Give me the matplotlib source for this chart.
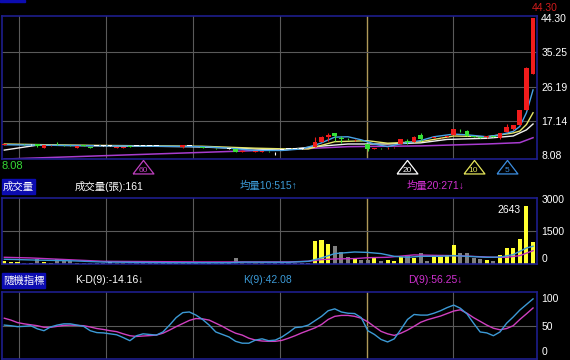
import matplotlib
matplotlib.use("Agg")
import matplotlib.pyplot as plt
import matplotlib.transforms as mtransforms
from matplotlib.patches import Rectangle

plt.rcParams['font.family'] = ['Liberation Sans Narrow', 'Liberation Sans', 'Noto Sans CJK TC']

# ---- daily candles ----
opens = [10.9, 11.05, 11.05, 11.1, 11.0, 11.1, 10.0, 10.75, 10.9, 10.85,
         10.8, 10.0, 10.7, 10.3, 10.65, 10.7, 10.7, 10.1, 10.1, 10.5,
         10.6, 10.6, 10.6, 10.6, 10.55, 10.55, 10.5, 10.2, 10.6, 10.5,
         10.3, 10.3, 10.1, 10.0, 9.9, 9.8, 9.1, 9.3, 9.1, 9.1,
         9.3, 8.9, 9.6, 9.8, 9.8, 9.9, 10.0, 10.2, 11.7, 12.9,
         14.05, 12.6, 12.45, 12.05, 12.15, 11.1, 9.8, 10.05, 9.95, 10.2,
         11.1, 11.9, 11.7, 13.46, 12.75, 12.7, 12.85, 12.95, 13.46, 14.6,
         14.5, 13.2, 12.9, 12.85, 13.2, 12.6, 14.3, 15.0, 16.1, 20.0,
         29.6]
closes = [11.1, 11.1, 11.1, 11.0, 11.0, 10.45, 10.75, 10.8, 10.8, 10.75,
          10.75, 10.65, 10.6, 10.15, 10.65, 10.7, 10.7, 10.3, 10.3, 10.4,
          10.6, 10.6, 10.6, 10.6, 10.55, 10.55, 10.5, 10.84, 10.6, 10.5,
          10.15, 10.3, 9.95, 10.0, 9.9, 9.1, 9.35, 9.2, 9.3, 9.3,
          9.15, 8.9, 9.6, 9.8, 9.8, 9.9, 10.0, 11.7, 12.86, 13.4,
          13.2, 12.35, 12.3, 12.15, 12.05, 9.8, 10.05, 9.95, 10.15, 10.3,
          12.3, 11.65, 13.0, 12.33, 12.65, 12.8, 12.95, 13.05, 14.96, 14.4,
          13.3, 12.9, 12.6, 13.1, 13.0, 14.05, 15.5, 16.1, 20.0, 31.0,
          44.3]
highs = [11.2, 11.15, 11.15, 11.15, 11.05, 11.15, 10.8, 10.85, 11.7, 10.9,
         10.85, 10.7, 10.75, 10.35, 10.7, 10.75, 10.75, 10.35, 10.35, 10.55,
         10.65, 10.65, 10.65, 10.65, 10.6, 10.6, 10.55, 10.9, 10.65, 10.55,
         10.35, 10.35, 10.15, 10.05, 9.95, 9.85, 9.4, 9.35, 9.35, 9.35,
         9.35, 8.95, 9.65, 9.85, 9.85, 9.95, 10.05, 13.0, 13.2, 13.9,
         14.1, 13.2, 12.6, 12.3, 12.2, 11.2, 10.1, 10.1, 10.2, 10.35,
         12.35, 12.3, 13.1, 14.0, 12.8, 12.85, 13.0, 13.1, 15.0, 15.1,
         14.7, 13.25, 12.95, 13.15, 13.25, 14.1, 16.3, 16.2, 20.1, 31.2,
         44.3]
lows = [10.8, 11.0, 11.0, 10.95, 10.95, 10.4, 9.95, 10.7, 10.75, 10.7,
        10.7, 9.95, 10.55, 10.1, 10.6, 10.65, 10.65, 10.05, 10.05, 10.35,
        10.55, 10.55, 10.55, 10.55, 10.5, 10.5, 10.45, 10.15, 10.55, 10.45,
        10.1, 10.25, 9.9, 9.95, 9.85, 9.05, 9.05, 9.15, 9.05, 9.05,
        9.1, 8.08, 9.55, 9.75, 9.75, 9.85, 9.95, 10.2, 11.6, 11.9,
        12.0, 11.4, 12.2, 12.0, 12.0, 9.3, 9.75, 9.9, 9.9, 10.15,
        11.0, 11.0, 11.6, 12.0, 12.6, 12.65, 12.8, 12.9, 13.4, 14.3,
        13.2, 12.85, 12.55, 12.8, 12.95, 12.5, 14.2, 14.9, 16.0, 20.0,
        29.5]

# moving averages of price, read at a few bars
ma5_x = [0, 10, 20, 30, 34, 38, 42, 45, 47, 48, 50, 52, 54, 56, 58, 60, 63, 65, 68, 70, 73, 75, 77, 78, 79, 80]
ma5_y = [10.9, 10.7, 10.55, 10.4, 10.0, 9.4, 9.4, 9.8, 10.8, 11.4, 12.9, 13.0, 12.2, 11.1, 10.4, 11.2, 12.0, 13.0, 13.7, 13.5, 13.0, 13.5, 14.4, 15.7, 19.3, 25.3]
ma10_x = [0, 10, 20, 30, 38, 43, 46, 50, 55, 58, 63, 68, 73, 77, 78, 79, 80]
ma10_y = [11.1, 10.8, 10.65, 10.5, 10.0, 9.8, 9.8, 11.7, 11.96, 11.3, 11.7, 13.2, 13.0, 14.0, 14.5, 16.2, 19.3]
ma20_x = [0, 5, 28, 35, 42, 47, 52, 58, 63, 67, 73, 77, 79, 80]
ma20_y = [9.5, 10.8, 10.4, 10.0, 9.5, 10.4, 11.1, 11.1, 11.4, 12.3, 12.6, 13.2, 14.8, 16.35]
ma60_x = [0, 42, 52, 63, 73, 78, 80]
ma60_y = [7.15, 9.6, 10.4, 10.6, 11.1, 11.45, 12.75]

# ---- volume (lots) ----
volumes = [100, 60, 60, 15, 25, 190, 70, 40, 230, 100,
           100, 20, 15, 30, 20, 40, 80, 25, 20, 20,
           60, 20, 50, 20, 40, 20, 20, 20, 15, 15,
           20, 15, 15, 20, 20, 260, 20, 20, 20, 20,
           20, 20, 20, 20, 20, 20, 20, 1020, 1100, 917,
           825, 520, 290, 245, 185, 161, 275, 138, 170, 138,
           307, 367, 260, 505, 107, 290, 290, 398, 872, 474,
           505, 260, 199, 168, 107, 413, 719, 719, 1131, 2643,
           1009]
vma10_x = [0, 5, 10, 15, 25, 34, 36, 43, 46, 48, 50, 53, 55, 57, 59, 61, 63, 66, 68, 70, 73, 75, 77, 79, 80]
vma10_y = [200, 160, 130, 70, 40, 40, 65, 60, 105, 260, 460, 535, 515, 460, 336, 290, 336, 336, 367, 336, 290, 300, 413, 719, 800]
vma20_x = [0, 4, 15, 30, 43, 46, 48, 50, 53, 55, 58, 62, 65, 68, 71, 74, 76, 78, 80]
vma20_y = [290, 260, 105, 76, 76, 105, 183, 214, 230, 271, 290, 400, 380, 367, 330, 290, 290, 367, 596]

# ---- stochastic KD(9) ----
k_vals = [51, 50, 48.5, 49, 50, 45, 42, 48, 51, 53,
          53, 51, 49, 42, 39, 38.5, 37, 35.5, 31, 26,
          34, 37, 36, 35, 40, 51, 63, 71, 72, 67,
          60, 51, 40, 36, 32, 25, 22, 22, 27, 29,
          26, 27, 32, 39, 47, 48, 51, 58, 65, 74,
          77, 72, 70, 69.5, 63, 42.08, 36, 28, 24, 29,
          44, 60, 68, 67, 67, 70, 74, 79, 83, 78,
          69, 54, 40, 38.5, 34, 40, 54, 64, 75, 84,
          93]
d_vals = [62, 59, 55, 53, 51.5, 50, 47.5, 47.5, 49, 50.5,
          51, 50.5, 50, 48, 45.5, 44, 42, 40.5, 37, 34,
          32.8, 33.5, 34.2, 35, 38, 43, 48.5, 53.5, 58.5, 61.5,
          61, 59, 54, 49, 43, 38, 35, 30, 27, 25.5,
          25, 25, 26.5, 30, 34, 38.5, 42.5, 46.5, 52, 60,
          65, 66.5, 66.5, 65, 62, 56.25, 48.5, 41, 37, 34.5,
          38, 43, 49, 55.5, 59.5, 62.5, 65.5, 69.5, 73.5, 75.5,
          70, 63, 57, 51, 46, 43.5, 45.5, 50, 60, 69,
          78.4]
kd_diff = -14.16   # as printed in the header

price_ticks = [8.08, 17.14, 26.19, 35.25, 44.30]
ma_periods = [60, 20, 10, 5]
cursor = 55

N = len(closes)
xs = list(range(N))
BG = 'black'
GRID = '#5a5a5a'
EDGE = '#1e1e8c'
CURSOR = '#b09a5a'
RED, GREEN = '#f01c1c', '#36e036'
BLUE, MAG = '#3c9ad6', '#d040c0'

fig = plt.figure(figsize=(5.7, 3.6), dpi=100, facecolor=BG)


def px(x, y):
    return x / 570, 1 - y / 360


def panel(top, bottom):
    ax = fig.add_axes([2 / 570, 1 - bottom / 360, 535 / 570, (bottom - top) / 360])
    ax.set_facecolor(BG)
    for s in ax.spines.values():
        s.set_color(EDGE)
        s.set_linewidth(1.2)
    ax.set_xlim(-0.35, 80.6)
    ax.set_xticks([])
    ax.yaxis.tick_right()
    ax.tick_params(axis='y', length=0, pad=3, colors='white', labelsize=7.5)
    for gx in [2.2, 15.4, 28.55, 41.7, 67.9]:
        ax.axvline(gx, color=GRID, lw=0.8, zorder=0)
    ax.axvline(54.9, color=CURSOR, lw=1, zorder=0)
    return ax


# ---------------- price panel ----------------
ax1 = panel(16, 159)
ax1.set_ylim(7.16, 44.7)
ax1.set_yticks(price_ticks)
ax1.set_yticklabels(['%.2f' % v for v in price_ticks])
for gy in price_ticks[1:4]:
    ax1.axhline(gy, color=GRID, lw=0.8, zorder=0)

ax1.plot(ma60_x, ma60_y, color='#a83cd0', lw=1.1, zorder=2)
ax1.plot(ma20_x, ma20_y, color='#f0f0f0', lw=1, zorder=2)
ax1.plot(ma10_x, ma10_y, color='#e6e66a', lw=1, zorder=2)
ax1.plot(ma5_x, ma5_y, color='#4aa4e8', lw=1, zorder=2)

for i in xs:
    o, c = opens[i], closes[i]
    col = RED if c > o else (GREEN if c < o else 'white')
    ax1.vlines(i, lows[i], highs[i], color=col, lw=0.8, zorder=3)
    ax1.bar(i, max(abs(c - o), 0.12), bottom=min(o, c), width=0.72, color=col, zorder=3)

# MA period markers under the price panel
mk = mtransforms.blended_transform_factory(ax1.transData, ax1.transAxes)
tri = [(-1, -0.62), (1, -0.62), (0, 0.68), (-1, -0.62)]
for n, col in zip(ma_periods, ['#c040c0', 'white', '#e6e65a', '#3c8ee0']):
    ax1.plot(N - n, -0.055, marker=tri, ms=15, mfc='none', mec=col, mew=0.9,
             transform=mk, clip_on=False)
    ax1.text(N - n, -0.08, str(n), color=col, fontsize=6, ha='center', va='center',
             transform=mk, clip_on=False)

fig.text(*px(2, 166), '%.2f' % min(lows), color='#36d836', fontsize=8, va='center')
fig.text(*px(545, 8), '%.2f' % max(highs), color='#d01c1c', fontsize=7.5, ha='center', va='center')
fig.patches.append(Rectangle(px(0, 2), 25 / 570, 2 / 360, transform=fig.transFigure,
                             color='#0c0cb0'))

# ---------------- volume panel ----------------
ax2 = panel(198, 264)
ax2.set_ylim(-20, 3030)
ax2.set_yticks([0, 1500, 3000])
ax2.set_yticklabels(['0', '1500', '3000'])
ax2.get_yticklabels()[0].set_va('bottom')
ax2.axhline(1500, color=GRID, lw=0.8, zorder=0)
vcols = ['#ffff30' if closes[i] > opens[i] else ('#808080' if closes[i] < opens[i] else '#e0e0e0')
         for i in xs]
ax2.bar(xs, volumes, width=0.62, color=vcols, zorder=2)
ax2.plot(vma20_x, vma20_y, color='#c030c0', lw=1, zorder=3)
ax2.plot(vma10_x, vma10_y, color=BLUE, lw=1, zorder=3)
top = volumes.index(max(volumes))
ax2.text(top - 0.9, max(volumes) * 0.93, str(max(volumes)), color='white', fontsize=7.5,
         ha='right', va='center')

# ---------------- KD panel ----------------
ax3 = panel(292, 359)
ax3.set_ylim(-3.3, 104)
ax3.set_yticks([0, 50, 100])
ax3.set_yticklabels(['0', '50', '100'])
ax3.get_yticklabels()[0].set_va('bottom')
ax3.get_yticklabels()[2].set_va('top')
ax3.axhline(50, color=GRID, lw=0.8, zorder=0)
ax3.plot(xs, d_vals, color=MAG, lw=1, zorder=2)
ax3.plot(xs, k_vals, color=BLUE, lw=1, zorder=3)

# ---------------- headers ----------------
for (x0, y0, w, h, label) in [(2, 179, 33, 15, '成交量'), (2, 273, 43, 15, '隨機指標')]:
    fig.patches.append(Rectangle(px(x0, y0 + h), w / 570, h / 360, transform=fig.transFigure,
                                 color='#0c0cb0'))
    fig.text(*px(x0 + w / 2, y0 + h / 2), label, color='white', fontsize=7.5,
             ha='center', va='center')

head = [
    (75, 186, '成交量(張):%d' % volumes[cursor], 'white'),
    (240, 186, '均量10:%d↑' % vma10_y[vma10_x.index(cursor)], BLUE),
    (407, 186, '均量20:%d↓' % vma20_y[vma20_x.index(cursor)], '#d030d0'),
    (75, 280, 'K-D(9):%.2f↓' % kd_diff, 'white'),
    (243, 280, 'K(9):%.2f' % k_vals[cursor], BLUE),
    (408, 280, 'D(9):%.2f↓' % d_vals[cursor], '#d030d0'),
]
for x0, y0, s, col in head:
    fig.text(*px(x0, y0), s, color=col, fontsize=7.5, va='center')

fig.savefig('out.png', dpi=100, facecolor=BG)
